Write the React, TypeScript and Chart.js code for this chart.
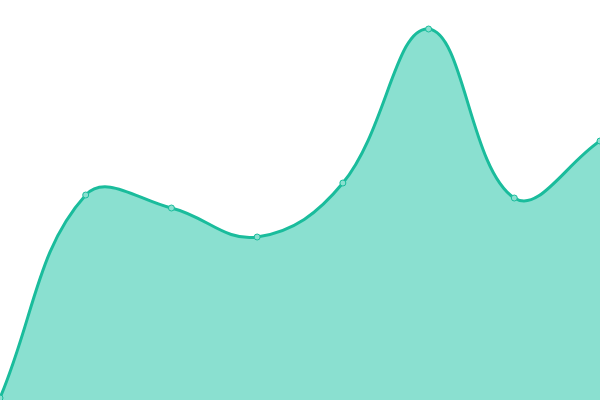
import { useEffect, useRef } from 'react';
import Chart from 'chart.js/auto';

// Values (chart area spans 0..400 on the y scale)
const labels = ['1', '2', '3', '4', '5', '6', '7', '8'];
const values = [2, 205, 192, 163, 217, 371, 202, 259];

export default function App() {
  const chartRef = useRef<HTMLCanvasElement>(null);

  useEffect(() => {
    document.body.style.margin = '0';
    if (!chartRef.current) return;
    const chart = new Chart(chartRef.current, {
      type: 'line',
      data: {
        labels,
        datasets: [
          {
            data: values,
            borderColor: '#1abc9c',
            backgroundColor: '#8ae0d0',
            borderWidth: 3,
            fill: true,
            tension: 0.4,
            pointRadius: 3,
            pointBorderWidth: 1,
            pointBackgroundColor: '#8ae0d0',
            pointBorderColor: '#1abc9c',
          },
        ],
      },
      options: {
        animation: false,
        responsive: true,
        maintainAspectRatio: false,
        layout: { padding: 0, autoPadding: false },
        scales: {
          x: { display: false, offset: false },
          y: { display: false, min: 0, max: 400 },
        },
        plugins: {
          legend: { display: false },
          tooltip: { enabled: false },
        },
      },
    });
    return () => chart.destroy();
  }, []);

  return (
    <div style={{ width: 600, height: 400 }}>
      <canvas ref={chartRef} />
    </div>
  );
}
